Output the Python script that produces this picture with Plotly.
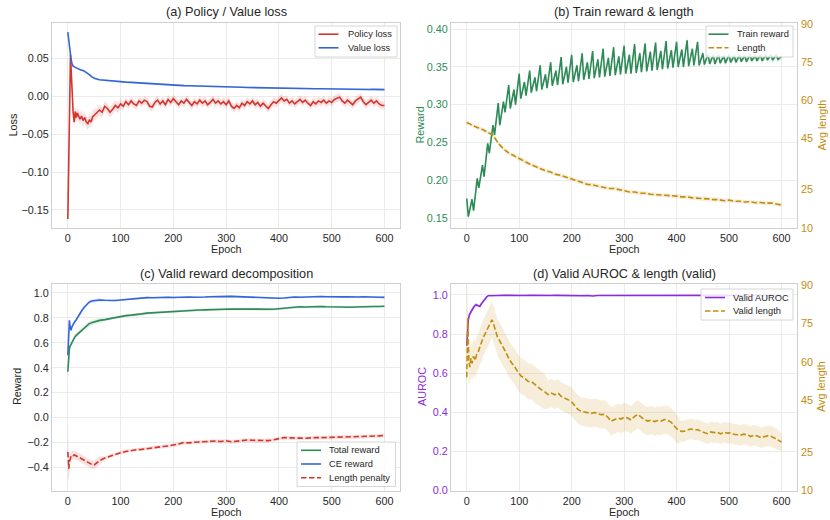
import plotly.graph_objects as go

# ---------------------------------------------------------------- data
# (a) Policy / Value loss
POLICY_EPOCH = [0, 5, 10, 12, 14, 16, 18, 20, 23, 26, 29, 32, 35, 38, 41, 44, 47, 50] + list(range(55, 601, 5))
POLICY_LOSS = [-0.162, 0.055, -0.021, -0.034, -0.020, -0.028, -0.022, -0.025, -0.030, -0.026,
               -0.032, -0.028, -0.034, -0.036, -0.031, -0.034, -0.027, -0.025,
               -0.022, -0.018, -0.021, -0.013, -0.016, -0.021, -0.017, -0.012, -0.015, -0.010,
               -0.013, -0.007, -0.011, -0.006, -0.010, -0.012, -0.006, -0.009, -0.005, -0.007,
               -0.013, -0.014, -0.008, -0.005, -0.010, -0.006, -0.011, -0.004, -0.008, -0.003,
               -0.007, -0.011, -0.006, -0.009, -0.004, -0.008, -0.012, -0.007, -0.010, -0.005,
               -0.009, -0.006, -0.011, -0.008, -0.004, -0.009, -0.006, -0.010, -0.007, -0.011,
               -0.006, -0.013, -0.016, -0.012, -0.015, -0.009, -0.012, -0.007, -0.010, -0.006,
               -0.011, -0.008, -0.013, -0.009, -0.012, -0.016, -0.011, -0.007, -0.009, -0.005,
               -0.002, -0.006, -0.004, -0.009, -0.006, -0.010, -0.007, -0.004, -0.008, -0.005,
               -0.009, -0.012, -0.007, -0.010, -0.006, -0.008, -0.005, -0.009, -0.006, -0.008,
               -0.004, -0.002, -0.001, -0.006, -0.009, -0.005, -0.008, -0.011, -0.006, -0.004,
               -0.001, -0.007, -0.011, -0.008, -0.005, -0.009, -0.006, -0.010, -0.012, -0.012]
POLICY_STD = [0.002, 0.004] + [0.008] * 16 + [0.007] * 10 + [0.0055] * 100

VALUE_EPOCH = [0, 2, 4, 6, 8, 10, 15, 20, 25, 30, 35, 40, 45, 50] + list(range(60, 601, 10))
VALUE_LOSS = [0.085, 0.072, 0.060, 0.050, 0.043, 0.040, 0.038, 0.036, 0.035, 0.034, 0.032, 0.029, 0.026, 0.024,
              0.0220, 0.0212, 0.0203, 0.0196, 0.0192, 0.0188, 0.0185, 0.0180, 0.0173, 0.0169,
              0.0166, 0.0160, 0.0154, 0.0150, 0.0147, 0.0144, 0.0142, 0.0140, 0.0137, 0.0134,
              0.0133, 0.0130, 0.0128, 0.0127, 0.0125, 0.0124, 0.0121, 0.0120, 0.0118, 0.0116,
              0.0114, 0.0113, 0.0110, 0.0111, 0.0109, 0.0108, 0.0106, 0.0107, 0.0105, 0.0103,
              0.0102, 0.0100, 0.0101, 0.0099, 0.0098, 0.0097, 0.0096, 0.0096, 0.0094, 0.0093,
              0.0092, 0.0091, 0.0092, 0.0090, 0.0089]
VALUE_STD = [0.0012] * len(VALUE_LOSS)

# (b) Train reward & length
TRAIN_PEAK_EPOCH = list(range(0, 601, 10))
TRAIN_PEAK = [0.176, 0.175, 0.2025, 0.220, 0.249, 0.273, 0.302, 0.304, 0.326, 0.320,
              0.341, 0.330, 0.345, 0.336, 0.352, 0.340, 0.356, 0.345, 0.363, 0.350,
              0.366, 0.352, 0.368, 0.356, 0.371, 0.360, 0.374, 0.362, 0.376, 0.364,
              0.378, 0.366, 0.380, 0.368, 0.381, 0.370, 0.382, 0.371, 0.384, 0.372,
              0.383, 0.373, 0.385, 0.374, 0.383, 0.368, 0.367, 0.366, 0.366, 0.365,
              0.366, 0.365, 0.366, 0.365, 0.366, 0.365, 0.366, 0.366, 0.366, 0.366,
              0.364]
TRAIN_TROUGH_EPOCH = list(range(3, 601, 10))
TRAIN_TROUGH = [0.152, 0.160, 0.190, 0.205, 0.236, 0.260, 0.273, 0.290, 0.295, 0.300,
                0.308, 0.312, 0.316, 0.318, 0.320, 0.322, 0.325, 0.326, 0.327, 0.329,
                0.330, 0.331, 0.333, 0.334, 0.335, 0.336, 0.337, 0.338, 0.339, 0.340,
                0.341, 0.341, 0.342, 0.343, 0.344, 0.345, 0.346, 0.347, 0.348, 0.349,
                0.350, 0.350, 0.351, 0.352, 0.352, 0.353, 0.354, 0.354, 0.355, 0.355,
                0.356, 0.356, 0.357, 0.357, 0.358, 0.358, 0.358, 0.359, 0.359, 0.360]
TRAIN_STD = 0.004

LEN_EPOCH = list(range(0, 601, 10))
TRAIN_LEN = [51.3, 50.2, 49.4, 48.6, 47.6, 46.4, 43.2, 41.0, 39.4, 38.2,
             37.3, 36.1, 35.1, 34.1, 33.4, 32.4, 31.9, 31.0, 30.6, 29.9,
             29.3, 28.3, 27.9, 27.1, 26.9, 26.4, 26.1, 25.5, 25.5, 24.9,
             24.6, 24.1, 24.1, 23.6, 23.6, 23.2, 23.1, 22.8, 22.8, 22.5,
             22.5, 22.2, 22.2, 21.8, 21.7, 21.4, 21.4, 21.1, 21.1, 20.7,
             20.9, 20.5, 20.5, 20.2, 20.3, 19.9, 20.0, 19.7, 19.8, 19.4,
             19.0]
TRAIN_LEN_STD = 0.8

# (c) Valid reward decomposition
C_EPOCH = [0, 1, 2, 3, 4, 6, 8, 10, 13, 16, 19, 22, 26, 30, 35, 40, 45, 50, 55, 60] + list(range(70, 601, 10))
CE_REWARD = [0.50, 0.62, 0.72, 0.78, 0.74, 0.70, 0.73, 0.75, 0.77, 0.785,
             0.81, 0.83, 0.855, 0.88, 0.905, 0.925, 0.935, 0.94, 0.94, 0.944,
             0.942, 0.938, 0.940, 0.944, 0.948, 0.955, 0.955, 0.960, 0.963, 0.962,
             0.965, 0.963, 0.966, 0.964, 0.967, 0.965, 0.968, 0.966, 0.970, 0.968,
             0.970, 0.972, 0.970, 0.972, 0.973, 0.971, 0.969, 0.971, 0.968, 0.967,
             0.965, 0.962, 0.960, 0.958, 0.960, 0.966, 0.968, 0.966, 0.969, 0.971,
             0.970, 0.972, 0.970, 0.968, 0.971, 0.969, 0.970, 0.966, 0.968, 0.970,
             0.967, 0.969, 0.966, 0.965]
TOTAL_REWARD = [0.368, 0.46, 0.52, 0.55, 0.57, 0.59, 0.61, 0.625, 0.645, 0.66,
                0.672, 0.685, 0.70, 0.72, 0.74, 0.752, 0.762, 0.77, 0.775, 0.78,
                0.786, 0.795, 0.805, 0.812, 0.818, 0.822, 0.825, 0.832, 0.838, 0.841,
                0.845, 0.848, 0.850, 0.852, 0.853, 0.857, 0.858, 0.861, 0.863, 0.864,
                0.866, 0.867, 0.868, 0.870, 0.871, 0.870, 0.872, 0.869, 0.871, 0.870,
                0.868, 0.866, 0.869, 0.874, 0.878, 0.884, 0.887, 0.889, 0.888, 0.890,
                0.889, 0.891, 0.889, 0.890, 0.888, 0.887, 0.886, 0.888, 0.887, 0.889,
                0.890, 0.891, 0.892, 0.893]
LEN_PENALTY = [-0.275, -0.36, -0.41, -0.36, -0.33, -0.31, -0.30, -0.305, -0.30, -0.31,
               -0.315, -0.32, -0.33, -0.34, -0.355, -0.365, -0.375, -0.38, -0.365, -0.345,
               -0.325, -0.31, -0.292, -0.282, -0.272, -0.262, -0.258, -0.255, -0.248, -0.245,
               -0.238, -0.232, -0.228, -0.222, -0.212, -0.200, -0.203, -0.198, -0.195, -0.192,
               -0.185, -0.188, -0.192, -0.186, -0.194, -0.190, -0.183, -0.180, -0.182, -0.184,
               -0.186, -0.185, -0.178, -0.168, -0.160, -0.163, -0.167, -0.165, -0.166, -0.162,
               -0.160, -0.161, -0.158, -0.160, -0.157, -0.156, -0.155, -0.156, -0.154, -0.152,
               -0.151, -0.150, -0.147, -0.143]
CE_STD = [0.05, 0.04, 0.03, 0.025] + [0.015] * 16 + [0.008] * 54
TOTAL_STD = [0.08, 0.05, 0.04, 0.03] + [0.02] * 16 + [0.01] * 54
PENALTY_STD = [0.235, 0.12, 0.09, 0.06] + [0.035] * 16 + [0.015] * 54

# (d) Valid AUROC & length
AUC_EPOCH = [0, 1, 2, 3, 5, 8, 12, 15, 18, 22, 25, 28, 31, 35, 38, 41, 45, 50] + list(range(60, 601, 10))
VALID_AUROC = [0.740, 0.810, 0.864, 0.872, 0.898, 0.915, 0.932, 0.945, 0.950, 0.945,
               0.942, 0.955, 0.966, 0.980, 0.990, 0.996, 0.997, 0.997,
               0.997, 0.998, 0.997, 0.998, 0.997, 0.997, 0.998, 0.997, 0.997, 0.998,
               0.997, 0.998, 0.997, 0.997, 0.998, 0.997, 0.996, 0.997, 0.995, 0.997,
               0.997, 0.998, 0.997, 0.997, 0.998, 0.997, 0.997, 0.998, 0.997, 0.997,
               0.998, 0.997, 0.997, 0.998, 0.997, 0.997, 0.998, 0.997, 0.997, 0.998,
               0.997, 0.997, 0.998, 0.997, 0.997, 0.998, 0.997, 0.997, 0.998, 0.997,
               0.997, 0.998, 0.997, 0.997, 0.998]
AUROC_STD = [0.02, 0.02, 0.015, 0.015, 0.012, 0.01, 0.01, 0.01, 0.01, 0.01,
             0.008, 0.008, 0.006, 0.005, 0.004, 0.003, 0.002, 0.002] + [0.001] * 55

VLEN_EPOCH = [0, 1, 2, 3, 4, 6, 8, 10, 13, 16,
              19, 22, 25, 28, 31, 34, 37, 40, 44, 48,
              50, 53, 56, 59, 62, 66, 70, 75, 81, 86,
              91, 97, 104, 110, 117, 123, 130, 136, 142, 148,
              155, 161, 168, 174, 180, 187, 193, 199, 206, 212,
              218, 225, 231, 237, 244, 250, 256, 263, 269, 275,
              281, 288, 294, 300, 307, 313, 320, 326, 332, 339,
              345, 352, 358, 364, 370, 377, 383, 390, 396, 402,
              409, 415, 421, 428, 434, 440, 446, 453, 459, 465,
              472, 478, 484, 490, 497, 503, 509, 516, 522, 528,
              535, 541, 547, 554, 561, 567, 573, 580, 586, 592,
              600]
VALID_LEN = [54.0, 70.0, 77.0, 68.0, 60.0, 58.0, 61.5, 59.4, 62.2, 60.5,
             63.0, 64.0, 66.0, 67.0, 69.3, 70.5, 71.9, 73.0, 74.5, 76.4,
             75.5, 73.2, 71.5, 69.3, 68.5, 66.7, 65.5, 63.5, 60.9, 59.5,
             58.3, 56.2, 54.4, 53.8, 52.4, 52.4, 51.0, 50.2, 49.2, 48.5,
             47.3, 47.9, 47.2, 47.9, 46.6, 46.0, 45.3, 44.7, 43.0, 41.5,
             40.8, 40.5, 40.2, 40.0, 40.3, 39.8, 39.5, 39.6, 38.5, 36.9,
             37.5, 38.2, 37.8, 38.5, 38.2, 37.4, 38.8, 39.6, 38.6, 37.5,
             37.0, 37.4, 36.8, 37.2, 37.0, 37.6, 37.3, 36.5, 35.0, 33.7,
             33.0, 33.1, 33.6, 33.9, 33.5, 33.7, 33.0, 32.5, 32.1, 32.8,
             32.5, 32.6, 32.0, 32.7, 32.3, 32.4, 31.9, 31.7, 31.5, 31.9,
             31.7, 31.0, 31.5, 31.2, 30.5, 30.9, 31.3, 31.1, 30.3, 29.8,
             28.8]
VALID_LEN_STD = [42, 18, 12, 10, 8, 7, 7, 7, 7, 7] + [7] * 30 + [5.5] * 40 + [4] * 30 + [3.5]

X_TICKS = [0, 100, 200, 300, 400, 500, 600]
LEN_TICKS = [10, 25, 45, 60, 75, 90]

# ---------------------------------------------------------------- style
W, H = 830, 520
FONT = "Liberation Sans, Arial, sans-serif"
TXT = "#262626"
RED = "#d1362f"
BLUE = "#3566d6"
GREEN = "#2e8b57"
GOLD = "#c28d0e"
PURPLE = "#8a2be2"
DASH = "5.5px,2.5px"


def rgba(h, a):
    h = h.lstrip("#")
    return "rgba(%d,%d,%d,%.3f)" % (int(h[0:2], 16), int(h[2:4], 16), int(h[4:6], 16), a)


def fx(p):
    return p / W


def fy(p):
    return 1 - p / H


fig = go.Figure()


def band(x, y, s, color, xa, ya, alpha=0.15):
    if not isinstance(s, list):
        s = [s] * len(y)
    up = [v + d for v, d in zip(y, s)]
    lo = [v - d for v, d in zip(y, s)]
    fig.add_trace(go.Scatter(x=list(x) + list(x)[::-1], y=up + lo[::-1], fill="toself",
                             fillcolor=rgba(color, alpha), line=dict(width=0, color=rgba(color, 0)),
                             mode="lines", hoverinfo="skip", showlegend=False, xaxis=xa, yaxis=ya))


def line(x, y, color, name, xa, ya, dash=None):
    fig.add_trace(go.Scatter(x=x, y=y, mode="lines", name=name, showlegend=False,
                             line=dict(color=color, width=1.6, dash=dash or "solid"),
                             xaxis=xa, yaxis=ya))


# (a)
band(POLICY_EPOCH, POLICY_LOSS, POLICY_STD, RED, "x", "y")
band(VALUE_EPOCH, VALUE_LOSS, VALUE_STD, BLUE, "x", "y")
line(POLICY_EPOCH, POLICY_LOSS, RED, "Policy loss", "x", "y")
line(VALUE_EPOCH, VALUE_LOSS, BLUE, "Value loss", "x", "y")

# (b)
tr_pairs = sorted(zip(TRAIN_PEAK_EPOCH + TRAIN_TROUGH_EPOCH, TRAIN_PEAK + TRAIN_TROUGH))
TR_X = [p[0] for p in tr_pairs]
TR_Y = [p[1] for p in tr_pairs]
band(TR_X, TR_Y, TRAIN_STD, GREEN, "x2", "y2", 0.15)
line(TR_X, TR_Y, GREEN, "Train reward", "x2", "y2")
band(LEN_EPOCH, TRAIN_LEN, TRAIN_LEN_STD, GOLD, "x2", "y3", 0.15)
line(LEN_EPOCH, TRAIN_LEN, GOLD, "Length", "x2", "y3", DASH)

# (c)
band(C_EPOCH, TOTAL_REWARD, TOTAL_STD, GREEN, "x3", "y4")
band(C_EPOCH, CE_REWARD, CE_STD, BLUE, "x3", "y4")
band(C_EPOCH, LEN_PENALTY, PENALTY_STD, RED, "x3", "y4")
line(C_EPOCH, TOTAL_REWARD, GREEN, "Total reward", "x3", "y4")
line(C_EPOCH, CE_REWARD, BLUE, "CE reward", "x3", "y4")
line(C_EPOCH, LEN_PENALTY, RED, "Length penalty", "x3", "y4", DASH)

# (d)
band(AUC_EPOCH, VALID_AUROC, AUROC_STD, PURPLE, "x4", "y5", 0.15)
line(AUC_EPOCH, VALID_AUROC, PURPLE, "Valid AUROC", "x4", "y5")
band(VLEN_EPOCH, VALID_LEN, VALID_LEN_STD, GOLD, "x4", "y6", 0.15)
line(VLEN_EPOCH, VALID_LEN, GOLD, "Valid length", "x4", "y6", DASH)

# ---------------------------------------------------------------- axes
XL = [fx(52), fx(400)]
XR = [fx(451), fx(797)]
YT = [fy(228), fy(23)]
YB = [fy(490.5), fy(284)]

base = dict(showline=True, mirror=True, linecolor="#cfcfcf", linewidth=1.2,
            showgrid=True, gridcolor="#ebebeb", gridwidth=1, zeroline=False, ticks="",
            tickfont=dict(family=FONT, size=10.8, color=TXT), automargin=False)


def xax(domain, anchor):
    d = dict(base)
    d.update(domain=domain, anchor=anchor, range=[-30, 629.5], tickvals=X_TICKS)
    return d


def yax(domain, anchor, rng, tickvals=None, fmt=None, color=TXT):
    d = dict(base)
    d.update(domain=domain, anchor=anchor, range=rng, tickfont=dict(family=FONT, size=10.8, color=color))
    if tickvals is not None:
        d["tickvals"] = tickvals
    if fmt:
        d["tickformat"] = fmt
    return d


def yright(over, anchor, color):
    return dict(overlaying=over, anchor=anchor, side="right", range=[10, 90.3], tickvals=LEN_TICKS,
                showgrid=False, zeroline=False, showline=False, ticks="", ticklabelstandoff=3,
                automargin=False, tickfont=dict(family=FONT, size=10.8, color=color))


fig.update_layout(
    width=W, height=H, margin=dict(l=0, r=0, t=0, b=0),
    paper_bgcolor="white", plot_bgcolor="white",
    font=dict(family=FONT, color=TXT),
    showlegend=False,
    xaxis=xax(XL, "y"),
    yaxis=yax(YT, "x", [-0.174, 0.097], [-0.15, -0.10, -0.05, 0.0, 0.05], ".2f"),
    xaxis2=xax(XR, "y2"),
    yaxis2=yax(YT, "x2", [0.137, 0.408], [0.15, 0.20, 0.25, 0.30, 0.35, 0.40], ".2f", GREEN),
    yaxis3=yright("y2", "x2", GOLD),
    xaxis3=xax(XL, "y4"),
    yaxis4=yax(YB, "x3", [-0.585, 1.072], [-0.4, -0.2, 0.0, 0.2, 0.4, 0.6, 0.8, 1.0], ".1f"),
    xaxis4=xax(XR, "y5"),
    yaxis5=yax(YB, "x4", [0, 1.056], [0.0, 0.2, 0.4, 0.6, 0.8, 1.0], ".1f", PURPLE),
    yaxis6=yright("y5", "x4", GOLD),
)


def ann(text, x, y, size=10.8, color=TXT, angle=0, anchor="center"):
    fig.add_annotation(text=text, x=fx(x), y=fy(y), xref="paper", yref="paper", showarrow=False,
                       xanchor=anchor, yanchor="middle", textangle=angle, borderpad=0,
                       font=dict(family=FONT, size=size, color=color))


TS = 12.7
ann("(a) Policy / Value loss", 226, 12, TS)
ann("(b) Train reward &amp; length", 624, 12, TS)
ann("(c) Valid reward decomposition", 226, 274, TS)
ann("(d) Valid AUROC &amp; length (valid)", 624, 274, TS)

ann("Epoch", 226, 249)
ann("Epoch", 624, 249)
ann("Epoch", 226, 512)
ann("Epoch", 624, 512)

ann("Loss", 12, 125.5, angle=-90)
ann("Reward", 419, 125.5, color=GREEN, angle=-90)
ann("Avg length", 821, 125.5, color=GOLD, angle=-90)
ann("Reward", 17, 387, angle=-90)
ann("AUROC", 422, 387, color=PURPLE, angle=-90)
ann("Avg length", 821, 387, color=GOLD, angle=-90)


# ---------------------------------------------------------------- legends (box, samples, labels)
def legend_box(x0, y0, x1, y1, items, sx0, sx1, tx):
    fig.add_shape(type="rect", xref="paper", yref="paper", x0=fx(x0), x1=fx(x1), y0=fy(y1), y1=fy(y0),
                  line=dict(color="#d6d6d6", width=1), fillcolor="rgba(255,255,255,0.85)", layer="above")
    for name, color, dash, yy in items:
        fig.add_shape(type="line", xref="paper", yref="paper", x0=fx(sx0), x1=fx(sx1), y0=fy(yy), y1=fy(yy),
                      line=dict(color=color, width=1.6, dash=dash or "solid"), layer="above")
        ann(name, tx, yy, 9.3, TXT, anchor="left")


legend_box(315, 26, 397, 57, [("Policy loss", RED, None, 34.2), ("Value loss", BLUE, None, 47.8)],
           318.5, 338.5, 346.5)
legend_box(706, 26, 793, 57, [("Train reward", GREEN, None, 34.2), ("Length", GOLD, DASH, 47.8)],
           708.5, 728.5, 735.5)
legend_box(297, 442, 395.5, 486.5, [("Total reward", GREEN, None, 450.3), ("CE reward", BLUE, None, 464),
                                    ("Length penalty", RED, DASH, 477.8)],
           301, 321, 328)
legend_box(701, 289, 793, 320, [("Valid AUROC", PURPLE, None, 297.5), ("Valid length", GOLD, DASH, 311)],
           705, 725, 731.5)

fig.write_html("out.html", config={"displayModeBar": False},
               post_script="document.body.style.margin='0';")
